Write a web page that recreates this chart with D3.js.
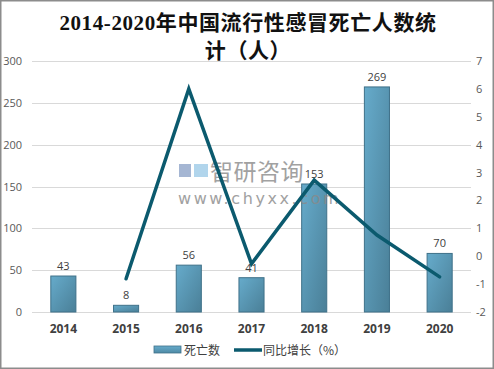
<!DOCTYPE html>
<html><head><meta charset="utf-8">
<script src="https://cdn.jsdelivr.net/npm/d3@7"></script>
<style>
html,body{margin:0;padding:0;background:#fff;}
svg{display:block;}
</style></head>
<body>
<svg id="chart" width="494" height="369"></svg>
<script>
const years = ["2014","2015","2016","2017","2018","2019","2020"];
const deaths = [43, 8, 56, 41, 153, 269, 70];
const growth = [null, -0.81, 6.0, -0.27, 2.73, 0.76, -0.74];
const leftTicks = [0, 50, 100, 150, 200, 250, 300];
const rightTicks = [-2, -1, 0, 1, 2, 3, 4, 5, 6, 7];
const titleLines = ["2014-2020年中国流行性感冒死亡人数统", "计（人）"];
const legendLabels = ["死亡数", "同比增长（%）"];

const svg = d3.select("#chart");
const W = 494, H = 369;
const m = {left: 32, right: 23, top: 61, bottom: 57};

// border
svg.append("rect").attr("x",0.75).attr("y",0.75).attr("width",W-1.5).attr("height",H-1.5)
  .attr("fill","#fff").attr("stroke","#8c8c8c").attr("stroke-width",1.5);

const defs = svg.append("defs");
const grad = defs.append("linearGradient").attr("id","barGrad")
  .attr("x1","0").attr("y1","0").attr("x2","1").attr("y2","1");
grad.append("stop").attr("offset","0%").attr("stop-color","#66abcb");
grad.append("stop").attr("offset","100%").attr("stop-color","#4a7f97");
const lgrad = defs.append("linearGradient").attr("id","legGrad")
  .attr("x1","0").attr("y1","0").attr("x2","0").attr("y2","1");
lgrad.append("stop").attr("offset","0%").attr("stop-color","#66abcb");
lgrad.append("stop").attr("offset","100%").attr("stop-color","#4f8aa5");

const x = d3.scaleBand().domain(years).range([m.left, W - m.right]).paddingInner(0.6).paddingOuter(0.3);
const yL = d3.scaleLinear().domain([0, 300]).range([H - m.bottom, m.top]);
const yR = d3.scaleLinear().domain([-2, 7]).range([H - m.bottom, m.top]);

// title
const title = svg.append("text").attr("text-anchor","middle")
  .attr("font-family","'Liberation Serif','Noto Sans CJK SC',serif")
  .attr("font-weight","bold").attr("font-size",21).attr("letter-spacing",0.6).attr("fill","#111");
title.append("tspan").attr("x",248).attr("y",30).text(titleLines[0]);
title.append("tspan").attr("x",248).attr("y",58).text(titleLines[1]);

// gridlines
svg.append("g").selectAll("line").data(leftTicks).join("line")
  .attr("x1", m.left).attr("x2", W - m.right)
  .attr("y1", d => Math.round(yL(d)) + 0.5).attr("y2", d => Math.round(yL(d)) + 0.5)
  .attr("stroke", "#d9d9d9").attr("stroke-width", 1);

// left axis
const axL = svg.append("g").attr("transform", `translate(${m.left - 10},0)`)
  .call(d3.axisLeft(yL).tickValues(leftTicks).tickSize(0).tickPadding(0).tickFormat(d => String(d)));
axL.select(".domain").remove();
axL.selectAll("text").attr("font-family","'Open Sans','Noto Sans',sans-serif").attr("font-size",11).attr("fill","#595959");

// right axis
const axR = svg.append("g").attr("transform", `translate(${W - m.right + 5},0)`)
  .call(d3.axisRight(yR).tickValues(rightTicks).tickSize(0).tickPadding(0).tickFormat(d => String(d)));
axR.select(".domain").remove();
axR.selectAll("text").attr("font-family","'Open Sans','Noto Sans',sans-serif").attr("font-size",11).attr("fill","#595959");

// bars
svg.append("g").selectAll("rect").data(deaths).join("rect")
  .attr("x", (d,i) => x(years[i]))
  .attr("y", d => yL(d))
  .attr("width", x.bandwidth())
  .attr("height", d => yL(0) - yL(d))
  .attr("fill", "url(#barGrad)")
  .attr("stroke", "#3f7189").attr("stroke-width", 1);

// watermark
const wm = svg.append("g").attr("opacity",0.8);
wm.append("rect").attr("x",179).attr("y",164).attr("width",12).attr("height",13).attr("fill","#8fa4c9");
wm.append("rect").attr("x",194).attr("y",164).attr("width",14).attr("height",13).attr("fill","#9ecbe8");
wm.append("text").attr("x",210).attr("y",180).attr("font-family","'Noto Sans CJK SC',sans-serif")
  .attr("font-size",23).attr("letter-spacing",0.5).attr("fill","#8a8a8a").text("智研咨询");
wm.append("text").attr("x",178).attr("y",204).attr("font-family","'DejaVu Sans',sans-serif")
  .attr("font-size",16).attr("letter-spacing",2.6).attr("fill","#8a8a8a").text("www.chyxx.com");

// bar labels
svg.append("g").selectAll("text").data(deaths).join("text")
  .attr("x", (d,i) => x(years[i]) + x.bandwidth()/2)
  .attr("y", d => yL(d) - 6)
  .attr("text-anchor","middle")
  .attr("font-family","'Open Sans','Noto Sans',sans-serif").attr("font-size",11).attr("fill","#404040")
  .text(d => d);

// line
const pts = growth.map((g,i) => ({g, yr: years[i]})).filter(d => d.g !== null);
const line = d3.line().x(d => x(d.yr) + x.bandwidth()/2).y(d => yR(d.g));
svg.append("path").datum(pts).attr("d", line)
  .attr("fill","none").attr("stroke","#0b5a6e").attr("stroke-width",3.5)
  .attr("stroke-linejoin","miter").attr("stroke-linecap","round");

// x axis labels
const axX = svg.append("g").attr("transform", `translate(0,${H - m.bottom + 10})`)
  .call(d3.axisBottom(x).tickSize(0).tickPadding(0));
axX.select(".domain").remove();
axX.selectAll("text").attr("font-family","'Open Sans','Noto Sans',sans-serif")
  .attr("font-size",12).attr("font-weight","bold").attr("fill","#404040").attr("dy","0.9em");

// legend
const lg = svg.append("g");
lg.append("rect").attr("x",154).attr("y",346).attr("width",27).attr("height",7)
  .attr("fill","url(#legGrad)").attr("stroke","#3f7189").attr("stroke-width",0.8);
lg.append("text").attr("x",184).attr("y",355).attr("font-family","'Noto Sans CJK SC',sans-serif")
  .attr("font-size",12).attr("fill","#404040").text(legendLabels[0]);
lg.append("line").attr("x1",234).attr("x2",262).attr("y1",350).attr("y2",350)
  .attr("stroke","#0b5a6e").attr("stroke-width",3.5);
lg.append("text").attr("x",263).attr("y",355).attr("font-family","'Noto Sans CJK SC',sans-serif")
  .attr("font-size",12).attr("fill","#404040").text(legendLabels[1]);
</script>
</body></html>
